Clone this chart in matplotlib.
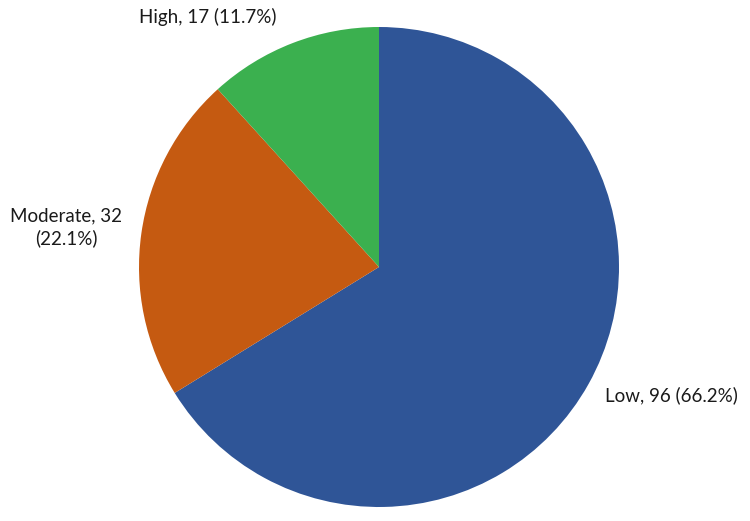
import matplotlib
matplotlib.use("Agg")
import matplotlib.pyplot as plt

categories = ["Low", "Moderate", "High"]
counts = [96, 32, 17]
colors = ["#2F5597", "#C55A11", "#3BB04F"]

total = sum(counts)
labels = []
for cat, n in zip(categories, counts):
    pct = n / total * 100
    sep = "\n" if cat == "Moderate" else " "
    labels.append(f"{cat}, {n}{sep}({pct:.1f}%)")

fig = plt.figure(figsize=(7.5, 5.21), dpi=100)
ax = fig.add_axes([139 / 750, 14 / 521, 480 / 750, 480 / 521])

ax.pie(counts, colors=colors, startangle=90, counterclock=False,
       wedgeprops=dict(linewidth=0))
ax.set_xlim(-1, 1)
ax.set_ylim(-1, 1)
ax.set_aspect("equal")
ax.axis("off")

# label positions, in pie radius units
label_pos = [(1.217, -0.533), (-1.304, 0.165), (-0.7125, 1.04)]
for (x, y), txt in zip(label_pos, labels):
    ax.text(x, y, txt, ha="center", va="center", fontsize=13.5,
            family="Lato", color="#1a1a1a", linespacing=1.35)

fig.savefig("out.png", dpi=100)
